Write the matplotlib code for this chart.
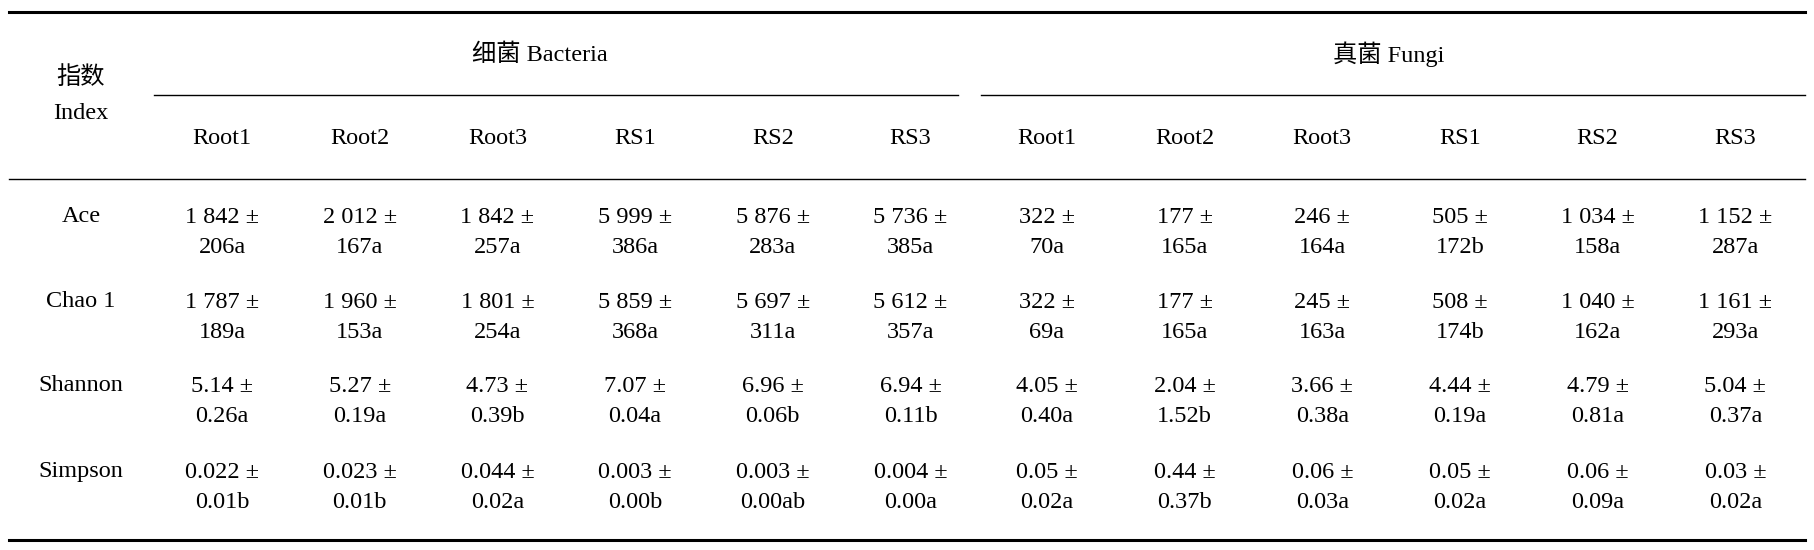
import matplotlib.pyplot as plt

groups = ["细菌 Bacteria", "真菌 Fungi"]
samples = ["Root1", "Root2", "Root3", "RS1", "RS2", "RS3"]
indices = ["Ace", "Chao 1", "Shannon", "Simpson"]

ace = ["1 842 ±\n206a", "2 012 ±\n167a", "1 842 ±\n257a", "5 999 ±\n386a", "5 876 ±\n283a", "5 736 ±\n385a",
       "322 ±\n70a", "177 ±\n165a", "246 ±\n164a", "505 ±\n172b", "1 034 ±\n158a", "1 152 ±\n287a"]
chao1 = ["1 787 ±\n189a", "1 960 ±\n153a", "1 801 ±\n254a", "5 859 ±\n368a", "5 697 ±\n311a", "5 612 ±\n357a",
         "322 ±\n69a", "177 ±\n165a", "245 ±\n163a", "508 ±\n174b", "1 040 ±\n162a", "1 161 ±\n293a"]
shannon = ["5.14 ±\n0.26a", "5.27 ±\n0.19a", "4.73 ±\n0.39b", "7.07 ±\n0.04a", "6.96 ±\n0.06b", "6.94 ±\n0.11b",
           "4.05 ±\n0.40a", "2.04 ±\n1.52b", "3.66 ±\n0.38a", "4.44 ±\n0.19a", "4.79 ±\n0.81a", "5.04 ±\n0.37a"]
simpson = ["0.022 ±\n0.01b", "0.023 ±\n0.01b", "0.044 ±\n0.02a", "0.003 ±\n0.00b", "0.003 ±\n0.00ab", "0.004 ±\n0.00a",
           "0.05 ±\n0.02a", "0.44 ±\n0.37b", "0.06 ±\n0.03a", "0.05 ±\n0.02a", "0.06 ±\n0.09a", "0.03 ±\n0.02a"]
rows = [ace, chao1, shannon, simpson]

W, H = 1568.0, 475.0
fam = ["Liberation Serif", "Noto Sans CJK SC"]
fs = 17.5

fig = plt.figure(figsize=(18.14, 5.5), dpi=100)
ax = fig.add_axes([0, 0, 1, 1])
ax.set_xlim(0, W)
ax.set_ylim(H, 0)
ax.axis("off")

def t(x, y, s, **kw):
    ax.text(x, y, s, ha="center", va="center", fontsize=fs, family=fam, linespacing=1.55, **kw)

ax.plot([8, 1560], [10, 10], color="black", lw=2.2)
ax.plot([8, 1560], [466, 466], color="black", lw=2.2)
ax.plot([8, 1560], [155, 155], color="black", lw=1.0)
ax.plot([133, 828], [82, 82], color="black", lw=1.0)
ax.plot([848, 1560], [82, 82], color="black", lw=1.0)

t(70, 67, "指数")
t(70, 98, "Index")
t(467, 47, groups[0])
t(1200, 47, groups[1])

xs = [192, 311, 430, 549, 668, 787, 905, 1024, 1143, 1262, 1381, 1500]
for i, x in enumerate(xs):
    t(x, 120, samples[i % 6])

ys = [201, 274, 347, 421]
for name, vals, y in zip(indices, rows, ys):
    t(70, y - 14, name)
    for x, v in zip(xs, vals):
        t(x, y, v)

fig.savefig("out.png", dpi=100)
